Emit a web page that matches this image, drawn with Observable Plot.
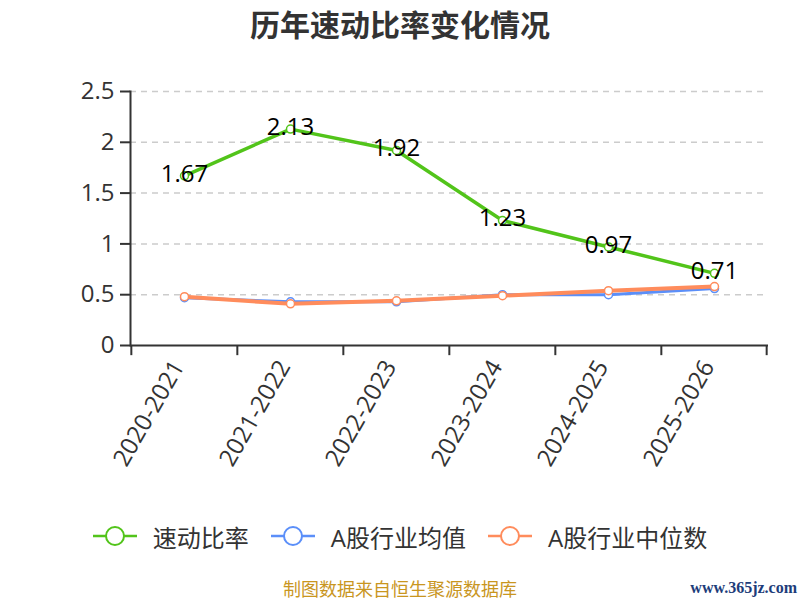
<!DOCTYPE html>
<html>
<head>
<meta charset="utf-8">
<script src="https://cdn.jsdelivr.net/npm/d3@7"></script>
<script src="https://cdn.jsdelivr.net/npm/@observablehq/plot@0.6"></script>
<style>
  body { margin: 0; background: #fff; font-family: "Open Sans", "Noto Sans CJK SC", sans-serif; }
  #wrap { width: 800px; height: 600px; position: relative; overflow: hidden; }
  #title { height: 46px; line-height: 46px; text-align: center; font-size: 30px; font-weight: bold; color: #333; font-family: "Noto Sans CJK SC", sans-serif; }
  #chart svg { display: block; }
  #legend { height: 60px; display: flex; justify-content: center; align-items: center; font-size: 24px; color: #333; font-family: "Open Sans", "Noto Sans CJK SC", sans-serif; }
  .item { display: flex; align-items: center; margin: 0 11px; }
  .item svg { margin-right: 16px; }
  #footer { position: relative; height: 34px; }
  #caption { position: absolute; left: 0; right: 0; top: 0; text-align: center; line-height: 44px; font-size: 18px; color: #c9961f; font-family: "Noto Sans CJK SC", sans-serif; }
  #site { position: absolute; right: 3px; top: 0; line-height: 44px; font-size: 16px; font-weight: bold; color: #1d3d7a; font-family: "Liberation Serif", serif; }
</style>
</head>
<body>
<div id="wrap">
  <div id="title">历年速动比率变化情况</div>
  <div id="chart"></div>
  <div id="legend"></div>
  <div id="footer"><div id="caption">制图数据来自恒生聚源数据库</div><div id="site">www.365jz.com</div></div>
</div>
<script>
const categories = ["2020-2021", "2021-2022", "2022-2023", "2023-2024", "2024-2025", "2025-2026"];
const quickRatio = [1.67, 2.13, 1.92, 1.23, 0.97, 0.71];
const industryMean = [0.47, 0.43, 0.43, 0.50, 0.50, 0.56];
const industryMedian = [0.48, 0.41, 0.44, 0.49, 0.54, 0.58];
const yTicks = [0, 0.5, 1, 1.5, 2, 2.5];
const seriesNames = ["速动比率", "A股行业均值", "A股行业中位数"];
const colors = ["#52c41a", "#5b8ff9", "#ff8c5c"];

const rows = (vals, s) => categories.map((c, i) => ({cat: c, value: vals[i], series: s}));
const green = rows(quickRatio, seriesNames[0]);
const blue = rows(industryMean, seriesNames[1]);
const orange = rows(industryMedian, seriesNames[2]);

const W = 800, H = 460, mL = 130, mR = 32, mT = 45, mB = 161;
const step = (W - mL - mR) / categories.length;

const plot = Plot.plot({
  width: W, height: H,
  marginLeft: mL, marginRight: mR, marginTop: mT, marginBottom: mB,
  style: {fontFamily: '"Open Sans", "Noto Sans CJK SC", sans-serif', color: "#333", background: "#fff"},
  x: {type: "band", domain: categories, padding: 0, align: 0.5},
  y: {domain: [0, 2.5]},
  marks: [
    Plot.gridY(yTicks.slice(1), {stroke: "#ccc", strokeOpacity: 1, strokeWidth: 1.5, strokeDasharray: "6,5"}),
    Plot.axisY({ticks: yTicks, tickSize: 10, tickPadding: 6, fontSize: 24, stroke: "#333", strokeWidth: 2, fill: "#333", tickFormat: d => String(d), label: null}),
    Plot.axisX({tickSize: 0, tickPadding: 17, tickRotate: -60, fontSize: 24, dx: -6, fill: "#333", label: null}),
    Plot.ruleX(categories, {x: d => d, dx: -step / 2, y1: 0, y2: -0.1, stroke: "#333", strokeWidth: 2}),
    Plot.ruleX([categories[categories.length - 1]], {x: d => d, dx: step / 2 - 1, y1: 0, y2: -0.1, stroke: "#333", strokeWidth: 2}),
    Plot.frame({anchor: "left", stroke: "#333", strokeWidth: 2}),
    Plot.ruleY([0], {stroke: "#333", strokeWidth: 2}),
    Plot.line(blue, {x: "cat", y: "value", stroke: colors[1], strokeWidth: 3}),
    Plot.dot(blue, {x: "cat", y: "value", r: 4, fill: "#fff", stroke: colors[1], strokeWidth: 1.5}),
    Plot.line(orange, {x: "cat", y: "value", stroke: colors[2], strokeWidth: 4}),
    Plot.dot(orange, {x: "cat", y: "value", r: 4, fill: "#fff", stroke: colors[2], strokeWidth: 1.5}),
    Plot.line(green, {x: "cat", y: "value", stroke: colors[0], strokeWidth: 3.5}),
    Plot.dot(green, {x: "cat", y: "value", r: 4, fill: "#fff", stroke: colors[0], strokeWidth: 1.5}),
    Plot.text(green, {x: "cat", y: "value", text: d => String(d.value), fontSize: 24, fill: "#000", dy: -2, textAnchor: "middle", lineAnchor: "middle"})
  ]
});
document.getElementById("chart").appendChild(plot);

const legend = document.getElementById("legend");
seriesNames.forEach((name, i) => {
  const item = document.createElement("div");
  item.className = "item";
  item.innerHTML = `<svg width="44" height="22" viewBox="0 0 44 22"><line x1="0" y1="11" x2="44" y2="11" stroke="${colors[i]}" stroke-width="2.5"/><circle cx="22" cy="11" r="9" fill="#fff" stroke="${colors[i]}" stroke-width="2"/></svg><span>${name}</span>`;
  legend.appendChild(item);
});
</script>
</body>
</html>
